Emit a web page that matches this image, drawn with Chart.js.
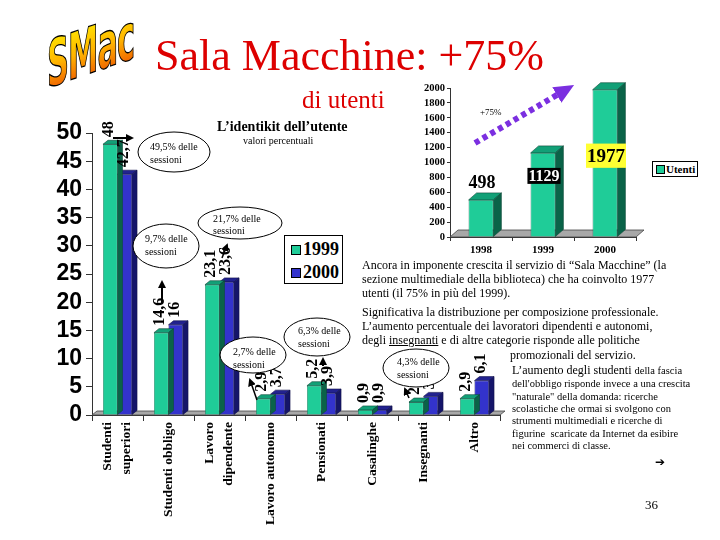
<!DOCTYPE html>
<html><head><meta charset="utf-8">
<script src="https://cdn.jsdelivr.net/npm/chart.js@4.4.1/dist/chart.umd.min.js"></script>
<style>
html,body{margin:0;padding:0;background:#fff;}
#page{position:relative;width:720px;height:540px;overflow:hidden;background:#fff;font-family:'Liberation Serif','Times New Roman',serif;}
.abs{position:absolute;white-space:nowrap;}
canvas{position:absolute;}
.p{position:absolute;white-space:nowrap;font-size:12px;line-height:14px;color:#000;}
.ps{position:absolute;white-space:nowrap;font-size:10.5px;line-height:12px;color:#000;}
</style></head><body><div id="page">
<canvas id="main" width="720" height="540" style="left:0;top:0"></canvas>
<canvas id="small" width="320" height="190" style="left:400px;top:70px"></canvas>

<svg class="abs" width="110" height="80" style="left:40px;top:18px">
 <defs><linearGradient id="lg" x1="0" y1="0" x2="0" y2="1">
  <stop offset="0" stop-color="#fff400"/><stop offset="0.5" stop-color="#ffb400"/><stop offset="1" stop-color="#e83c00"/></linearGradient></defs>
 <g transform="translate(7,70) skewY(-19) scale(1,1.9)">
  <text font-family="DejaVu Sans Condensed" font-weight="bold" font-size="34" fill="url(#lg)" stroke="#000" stroke-width="0.7" letter-spacing="-1">SMac</text>
 </g>
</svg>
<div class="abs" style="left:155px;top:34px;font-size:44px;line-height:44px;color:#dd0000;">Sala Macchine: +75%</div>
<div class="abs" style="left:302px;top:87px;font-size:25px;line-height:25px;color:#dd0000;">di utenti</div>

<div class="abs" style="left:217px;top:119px;font-size:14px;line-height:16px;font-weight:bold;">L’identikit dell’utente</div>
<div class="abs" style="left:243px;top:135px;font-size:10px;line-height:12px;">valori percentuali</div>

<div class="abs" style="left:284px;top:235px;width:57px;height:47px;border:1px solid #000;background:#fff;">
 <div class="abs" style="left:6px;top:9px;width:8px;height:8px;background:#1fcc98;border:1px solid #000;"></div>
 <div class="abs" style="left:18px;top:3px;font-size:18px;line-height:20px;font-weight:bold;">1999</div>
 <div class="abs" style="left:6px;top:32px;width:8px;height:8px;background:#3333cc;border:1px solid #000;"></div>
 <div class="abs" style="left:18px;top:26px;font-size:18px;line-height:20px;font-weight:bold;">2000</div>
</div>

<div class="abs" style="left:652px;top:161px;width:44px;height:14px;border:1px solid #000;background:#fff;">
 <div class="abs" style="left:3px;top:3px;width:7px;height:7px;background:#1fcc98;border:1px solid #000;"></div>
 <div class="abs" style="left:13px;top:0px;font-size:11px;line-height:14px;font-weight:bold;">Utenti</div>
</div>

<div class="p" style="left:362px;top:258px;">Ancora in imponente crescita il servizio di “Sala Macchine” (la</div>
<div class="p" style="left:362px;top:272px;">sezione multimediale della biblioteca) che ha coinvolto 1977</div>
<div class="p" style="left:362px;top:286px;">utenti (il 75% in più del 1999).</div>
<div class="p" style="left:362px;top:305px;">Significativa la distribuzione per composizione professionale.</div>
<div class="p" style="left:362px;top:319px;">L’aumento percentuale dei lavoratori dipendenti e autonomi,</div>
<div class="p" style="left:362px;top:333px;">degli <span style="text-decoration:underline">insegnanti</span> e di altre categorie risponde alle politiche</div>
<div class="p" style="left:510px;top:348px;">promozionali del servizio.</div>
<div class="p" style="left:512px;top:363px;">L’aumento degli studenti <span style="font-size:10.5px">della fascia</span></div>
<div class="ps" style="left:512px;top:378px;">dell'obbligo risponde invece a una crescita</div>
<div class="ps" style="left:512px;top:391px;">"naturale" della domanda: ricerche</div>
<div class="ps" style="left:512px;top:403px;">scolastiche che ormai si svolgono con</div>
<div class="ps" style="left:512px;top:415px;">strumenti multimediali e ricerche di</div>
<div class="ps" style="left:512px;top:428px;">figurine&nbsp; scaricate da Internet da esibire</div>
<div class="ps" style="left:512px;top:440px;">nei commerci di classe.</div>
<div class="abs" style="left:655px;top:454px;font-size:12px;line-height:16px;font-family:'DejaVu Sans';">➔</div>
<div class="abs" style="left:645px;top:497px;font-size:13px;line-height:16px;">36</div>

<svg class="abs" width="720" height="540" style="left:0;top:0" font-family="Liberation Serif" font-size="10">
 <defs>
  <marker id="ah" markerWidth="8" markerHeight="8" refX="6" refY="4" orient="auto" markerUnits="userSpaceOnUse"><path d="M0,0 L8,4 L0,8 z" fill="#000"/></marker>
  <marker id="ahp" markerWidth="20" markerHeight="18" refX="6" refY="9" orient="auto" markerUnits="userSpaceOnUse"><path d="M0,0 L20,9 L0,18 z" fill="#7b2fe0"/></marker>
 </defs>
 <ellipse cx="174" cy="152" rx="36" ry="20" fill="#fff" stroke="#000"/>
 <text x="150" y="150">49,5% delle</text><text x="150" y="163">sessioni</text>
 <line x1="113" y1="138" x2="132" y2="138" stroke="#000" stroke-width="2" marker-end="url(#ah)"/>

 <ellipse cx="166" cy="246" rx="33" ry="22" fill="#fff" stroke="#000"/>
 <text x="145" y="242">9,7% delle</text><text x="145" y="255">sessioni</text>
 <line x1="162" y1="303" x2="162" y2="282" stroke="#000" stroke-width="2" marker-end="url(#ah)"/>

 <ellipse cx="240" cy="223" rx="42" ry="16" fill="#fff" stroke="#000"/>
 <text x="213" y="222">21,7% delle</text><text x="213" y="234">sessioni</text>
 <line x1="222" y1="258" x2="227" y2="245" stroke="#000" stroke-width="1.5" marker-end="url(#ah)"/>

 <ellipse cx="253" cy="355" rx="33" ry="18" fill="#fff" stroke="#000"/>
 <text x="233" y="355">2,7% delle</text><text x="233" y="368">sessioni</text>
 <line x1="257" y1="400" x2="250" y2="380" stroke="#000" stroke-width="1.5" marker-end="url(#ah)"/>

 <ellipse cx="317" cy="337" rx="33" ry="19" fill="#fff" stroke="#000"/>
 <text x="298" y="334">6,3% delle</text><text x="298" y="347">sessioni</text>
 <line x1="323" y1="366" x2="323" y2="359" stroke="#000" stroke-width="2" marker-end="url(#ah)"/>

 <ellipse cx="416" cy="368" rx="33" ry="19" fill="#fff" stroke="#000"/>
 <text x="397" y="365">4,3% delle</text><text x="397" y="378">sessioni</text>
 <line x1="409" y1="398" x2="405" y2="389" stroke="#000" stroke-width="1.5" marker-end="url(#ah)"/>

 <line x1="475" y1="143" x2="562" y2="92" stroke="#7b2fe0" stroke-width="6" stroke-dasharray="5,4" marker-end="url(#ahp)"/>
 <text x="480" y="115" font-size="9">+75%</text>
</svg>
</div>
<script>
// ---- data ----
const categories = [['Studenti','superiori'],'Studenti obbligo',['Lavoro','dipendente'],'Lavoro autonomo','Pensionati','Casalinghe','Insegnanti','Altro'];
const seriesNames = ['1999','2000'];
const values1999 = [48, 14.6, 23.1, 2.9, 5.2, 0.9, 2.3, 2.9];
const values2000 = [42.7, 16, 23.6, 3.7, 3.9, 0.9, 3.3, 6.1];
const mainAxisMax = 50, mainAxisStep = 5;

const years = ['1998','1999','2000'];
const utenti = [498, 1129, 1977];
const usersSeriesName = 'Utenti';
const smallAxisMax = 2000, smallAxisStep = 200;

// ---- helpers ----
function bar3d(id, dx, dy, faces, floorColor){
  return {
    id,
    beforeDatasetsDraw(chart){
      const {ctx, chartArea:a} = chart;
      ctx.save();
      ctx.fillStyle = floorColor; ctx.strokeStyle = '#444'; ctx.lineWidth = 0.8;
      ctx.beginPath();
      ctx.moveTo(a.left, a.bottom); ctx.lineTo(a.left+dx, a.bottom-dy);
      ctx.lineTo(a.right+dx, a.bottom-dy); ctx.lineTo(a.right, a.bottom);
      ctx.closePath(); ctx.fill(); ctx.stroke();
      ctx.restore();
    },
    afterDatasetDraw(chart, args){
      const meta = chart.getDatasetMeta(args.index);
      const f = faces[args.index];
      const ctx = chart.ctx;
      ctx.save();
      ctx.lineWidth = 0.6; ctx.strokeStyle = f.line;
      meta.data.forEach(el => {
        const p = el.getProps(['x','y','base','width'], true);
        const l = p.x - p.width/2, r = p.x + p.width/2;
        ctx.fillStyle = f.top;
        ctx.beginPath();
        ctx.moveTo(l, p.y); ctx.lineTo(l+dx, p.y-dy); ctx.lineTo(r+dx, p.y-dy); ctx.lineTo(r, p.y);
        ctx.closePath(); ctx.fill(); ctx.stroke();
        ctx.fillStyle = f.side;
        ctx.beginPath();
        ctx.moveTo(r, p.y); ctx.lineTo(r+dx, p.y-dy); ctx.lineTo(r+dx, p.base-dy); ctx.lineTo(r, p.base);
        ctx.closePath(); ctx.fill(); ctx.stroke();
      });
      ctx.restore();
    }
  };
}

const mainLabels = {
  id:'mainLabels',
  afterDatasetsDraw(chart){
    const ctx = chart.ctx;
    ctx.save();
    ctx.font = 'bold 16px "Liberation Serif"';
    ctx.fillStyle = '#000'; ctx.textAlign = 'left'; ctx.textBaseline = 'middle';
    chart.data.datasets.forEach((ds, i) => {
      chart.getDatasetMeta(i).data.forEach((el, j) => {
        ctx.save();
        ctx.translate(el.x - 1, el.y - 7);
        ctx.rotate(-Math.PI/2);
        ctx.fillText(String(ds.data[j]).replace('.', ','), 0, 0);
        ctx.restore();
      });
    });
    ctx.restore();
  }
};

// category labels drawn at the x scale's tick positions, lines centred on the tick
const catLabels = {
  id:'catLabels',
  afterDraw(chart){
    const sc = chart.scales.x, ctx = chart.ctx;
    const lh = 19;
    ctx.save();
    ctx.font = 'bold 13.5px "Liberation Serif"';
    ctx.fillStyle = '#000'; ctx.textAlign = 'right'; ctx.textBaseline = 'middle';
    chart.data.labels.forEach((lab, i) => {
      const lines = Array.isArray(lab) ? lab : [lab];
      const x = sc.getPixelForTick(i);
      lines.forEach((t, k) => {
        const cx = x + (k - (lines.length - 1) / 2) * lh;
        ctx.save();
        ctx.translate(cx, sc.top + 7);
        ctx.rotate(-Math.PI/2);
        ctx.fillText(t, 0, 0);
        ctx.restore();
      });
    });
    ctx.restore();
  }
};

// ---- main chart ----
new Chart(document.getElementById('main'), {
  type:'bar',
  data:{
    labels: categories,
    datasets:[
      {label:seriesNames[0], data:values1999, backgroundColor:'#1fcc98', borderColor:'#0c4a37', borderWidth:0.6},
      {label:seriesNames[1], data:values2000, backgroundColor:'#3333cc', borderColor:'#10104a', borderWidth:0.6}
    ]
  },
  options:{
    responsive:false, animation:false,
    categoryPercentage:0.57, barPercentage:1.0,
    layout:{padding:{left:0, top:133, right:220, bottom:15}},
    plugins:{legend:{display:false}, tooltip:{enabled:false}},
    scales:{
      x:{
        ticks:{display:false},
        grid:{offset:true, drawOnChartArea:false, tickLength:6, color:'#333'},
        border:{display:true, color:'#333'},
        afterFit(s){ s.height = 110; }
      },
      y:{
        min:0, max:mainAxisMax,
        ticks:{stepSize:mainAxisStep, autoSkip:false, color:'#000', padding:4,
               font:{family:'Liberation Sans', weight:'bold', size:23}},
        grid:{drawOnChartArea:false, tickLength:6, color:'#333'},
        border:{display:true, color:'#333'},
        afterFit(s){ s.width = 92; }
      }
    }
  },
  plugins:[bar3d('main3d', 5, 4, [
    {top:'#12a077', side:'#0a6348', line:'#0c4a37'},
    {top:'#22228f', side:'#15156a', line:'#10104a'}
  ], '#a8a8a8'), mainLabels, catLabels]
});

// ---- small chart ----
const smallLabelStyle = [
  {dy:-18, bg:null, fg:'#000', size:18, padX:0, padY:0},
  {dy:23, bg:'#000', fg:'#fff', size:16, padX:1, padY:2},
  {dy:66, bg:'#ffff33', fg:'#000', size:19, padX:1, padY:5}
];
const smallLabels = {
  id:'smallLabels',
  afterDatasetsDraw(chart){
    const ctx = chart.ctx;
    const ds = chart.data.datasets[0];
    ctx.save();
    ctx.textAlign = 'center'; ctx.textBaseline = 'middle';
    chart.getDatasetMeta(0).data.forEach((el, j) => {
      const st = smallLabelStyle[j];
      const txt = String(ds.data[j]);
      ctx.font = 'bold ' + st.size + 'px "Liberation Serif"';
      const w = ctx.measureText(txt).width;
      const cx = el.x + 1, cy = el.y + st.dy;
      if (st.bg){
        ctx.fillStyle = st.bg;
        const h = st.size*0.75 + st.padY*2;
        ctx.fillRect(cx - w/2 - st.padX, cy - h/2, w + st.padX*2, h);
      }
      ctx.fillStyle = st.fg;
      ctx.fillText(txt, cx, cy + 1);
    });
    ctx.restore();
  }
};

new Chart(document.getElementById('small'), {
  type:'bar',
  data:{
    labels: years,
    datasets:[{label:usersSeriesName, data:utenti, backgroundColor:'#1fcc98', borderColor:'#0c4a37', borderWidth:0.6}]
  },
  options:{
    responsive:false, animation:false,
    categoryPercentage:1.0, barPercentage:0.4,
    layout:{padding:{left:0, top:18, right:84, bottom:3}},
    plugins:{legend:{display:false}, tooltip:{enabled:false}},
    scales:{
      x:{
        ticks:{color:'#000', padding:3, font:{family:'Liberation Serif', weight:'bold', size:11}},
        grid:{offset:true, drawOnChartArea:false, tickLength:4, color:'#333'},
        border:{display:true, color:'#333'},
        afterFit(s){ s.height = 20; }
      },
      y:{
        min:0, max:smallAxisMax,
        ticks:{stepSize:smallAxisStep, autoSkip:false, color:'#000', padding:2,
               callback:(v) => String(v),
               font:{family:'Liberation Serif', weight:'bold', size:10.5}},
        grid:{drawOnChartArea:false, tickLength:3, color:'#333'},
        border:{display:true, color:'#333'},
        afterFit(s){ s.width = 50; }
      }
    }
  },
  plugins:[bar3d('small3d', 8, 7, [{top:'#12a077', side:'#0a6348', line:'#0c4a37'}], '#a8a8a8'), smallLabels]
});
</script>
</body></html>
